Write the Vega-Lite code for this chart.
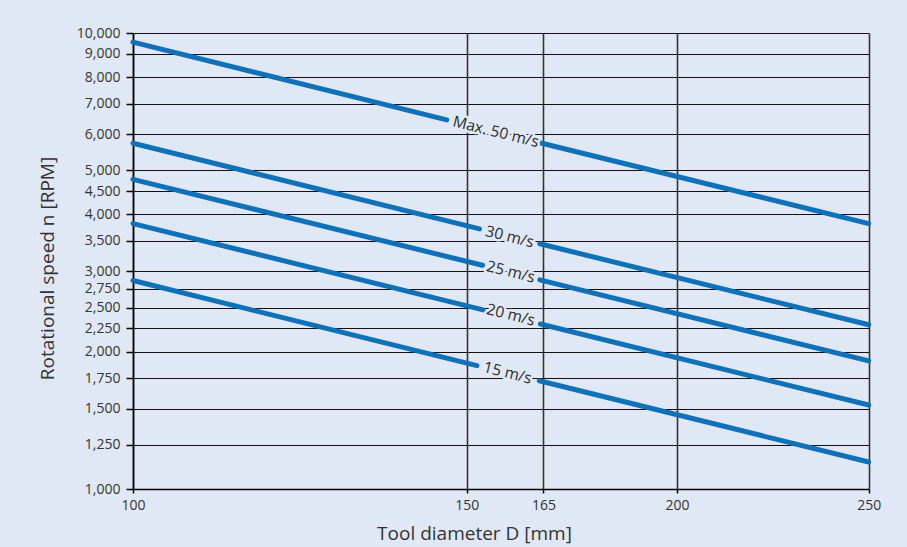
{
  "$schema": "https://vega.github.io/schema/vega-lite/v6.json",
  "width": 736,
  "height": 456,
  "autosize": {"type": "none"},
  "padding": {"left": 133, "top": 33, "right": 38, "bottom": 58},
  "background": "#e1e8f5",
  "config": {
    "view": {"stroke": null},
    "font": "Open Sans",
    "axis": {
      "labelFont": "Open Sans",
      "titleFont": "Open Sans",
      "labelColor": "#333333",
      "titleColor": "#333333",
      "labelFontSize": 14,
      "titleFontSize": 19,
      "titleFontWeight": "normal",
      "domainColor": "#000000",
      "domainWidth": 1.5,
      "tickColor": "#000000",
      "tickWidth": 1.5,
      "labelFlush": false,
      "labelOverlap": false
    }
  },
  "datasets": {
    "lines": [
      {"speed": "50", "seg": "50a", "D": 100, "rpm": 9549},
      {"speed": "50", "seg": "50a", "D": 147, "rpm": 6450},
      {"speed": "50", "seg": "50b", "D": 163.9, "rpm": 5760},
      {"speed": "50", "seg": "50b", "D": 250, "rpm": 3820},
      {"speed": "30", "seg": "30a", "D": 100, "rpm": 5730},
      {"speed": "30", "seg": "30a", "D": 152.5, "rpm": 3720},
      {"speed": "30", "seg": "30b", "D": 164.3, "rpm": 3450},
      {"speed": "30", "seg": "30b", "D": 250, "rpm": 2292},
      {"speed": "25", "seg": "25a", "D": 100, "rpm": 4775},
      {"speed": "25", "seg": "25a", "D": 153.1, "rpm": 3095},
      {"speed": "25", "seg": "25b", "D": 164.3, "rpm": 2875},
      {"speed": "25", "seg": "25b", "D": 250, "rpm": 1910},
      {"speed": "20", "seg": "20a", "D": 100, "rpm": 3820},
      {"speed": "20", "seg": "20a", "D": 153.2, "rpm": 2470},
      {"speed": "20", "seg": "20b", "D": 164.4, "rpm": 2300},
      {"speed": "20", "seg": "20b", "D": 250, "rpm": 1528},
      {"speed": "15", "seg": "15a", "D": 100, "rpm": 2865},
      {"speed": "15", "seg": "15a", "D": 152.0, "rpm": 1865},
      {"speed": "15", "seg": "15b", "D": 164.2, "rpm": 1727},
      {"speed": "15", "seg": "15b", "D": 250, "rpm": 1146}
    ],
    "labels": [
      {"label": "Max. 50 m/s", "D": 155.7, "rpm": 6071},
      {"label": "30 m/s", "D": 158.4, "rpm": 3573},
      {"label": "25 m/s", "D": 158.6, "rpm": 2993},
      {"label": "20 m/s", "D": 158.6, "rpm": 2409},
      {"label": "15 m/s", "D": 158.0, "rpm": 1797}
    ]
  },
  "encoding": {
    "x": {
      "field": "D",
      "type": "quantitative",
      "scale": {"domain": [100, 150, 165, 200, 250], "range": [0, 333.7, 410.4, 544, 735.7], "nice": false, "zero": false},
      "axis": {
        "title": "Tool diameter D [mm]",
        "values": [100, 150, 165, 200, 250],
        "format": "d",
        "tickSize": 4,
        "labelPadding": 5,
        "grid": true,
        "gridColor": "#333333",
        "gridWidth": 1.6,
        "titleX": 341,
        "titleY": 44,
        "titleBaseline": "middle",
        "titleAlign": "center"
      }
    },
    "y": {
      "field": "rpm",
      "type": "quantitative",
      "scale": {"type": "log", "domain": [1000, 10000], "nice": false},
      "axis": {
        "title": "Rotational speed n [RPM]",
        "values": [1000, 1250, 1500, 1750, 2000, 2250, 2500, 2750, 3000, 3500, 4000, 4500, 5000, 6000, 7000, 8000, 9000, 10000],
        "format": ",",
        "tickSize": 7,
        "labelPadding": 6,
        "grid": true,
        "gridColor": "#111111",
        "gridWidth": 1.2,
        "titleX": -86,
        "titleY": 235,
        "titleBaseline": "middle",
        "titleAlign": "center",
        "titleAngle": 270
      }
    }
  },
  "layer": [
    {
      "data": {"name": "lines"},
      "mark": {"type": "line", "color": "#0f71b8", "strokeWidth": 5, "strokeCap": "round"},
      "encoding": {"detail": {"field": "seg"}}
    },
    {
      "data": {"name": "labels"},
      "mark": {"type": "text", "angle": 14, "fontSize": 15.5, "font": "Open Sans", "color": "#e1e8f5", "stroke": "#e1e8f5", "strokeWidth": 5, "strokeJoin": "round", "align": "center", "baseline": "middle"},
      "encoding": {"text": {"field": "label"}}
    },
    {
      "data": {"name": "labels"},
      "mark": {"type": "text", "angle": 14, "fontSize": 15.5, "font": "Open Sans", "color": "#2b2b2b", "align": "center", "baseline": "middle"},
      "encoding": {"text": {"field": "label"}}
    }
  ]
}
